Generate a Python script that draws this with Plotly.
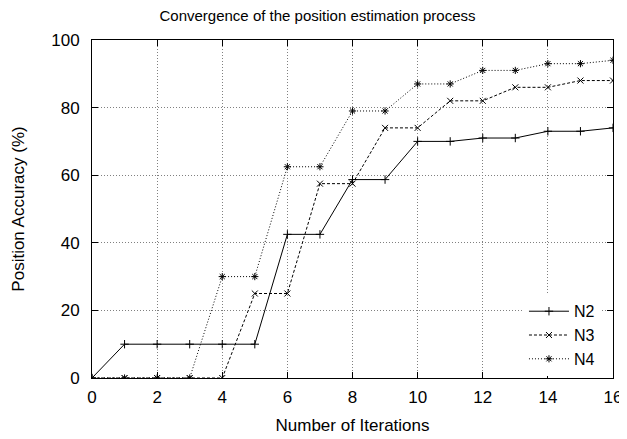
import plotly.graph_objects as go

iterations = list(range(17))
n2 = [0, 10, 10, 10, 10, 10, 42.5, 42.5, 58.7, 58.7, 70, 70, 71, 71, 73, 73, 74]
n3 = [0, 0, 0, 0, 0, 25, 25, 57.5, 57.5, 74, 74, 82, 82, 86, 86, 88, 88]
n4 = [0, 0, 0, 0, 30, 30, 62.5, 62.5, 79, 79, 87, 87, 91, 91, 93, 93, 94]
x_ticks = list(range(0, 17, 2))
y_ticks = list(range(0, 101, 20))

font = "Liberation Sans, Arial, sans-serif"
fig = go.Figure()
series = [("N2", n2, "solid", "cross-thin"), ("N3", n3, "3px,2px", "x-thin"), ("N4", n4, "1px,2px", "asterisk")]
for name, vals, dash, sym in series:
    fig.add_trace(go.Scatter(
        x=iterations, y=vals, name=name, mode="lines+markers",
        line=dict(color="black", width=1, dash=dash),
        marker=dict(symbol=sym, size=6, color="black", line=dict(color="black", width=1)),
    ))

axis_common = dict(
    showline=True, linecolor="black", linewidth=1, mirror="ticks",
    ticks="inside", ticklen=6, tickcolor="black", automargin=False, ticklabeloverflow="allow",
    showgrid=True, gridcolor="#808080", griddash="1px,2px", gridwidth=1,
    zeroline=False, tickfont=dict(family=font, size=17, color="black"),
)
fig.update_xaxes(range=[0, 16], tickvals=x_ticks, ticklabelstandoff=4,
                 title=dict(text="Number of Iterations", font=dict(family=font, size=17, color="black"), standoff=12),
                 **axis_common)
fig.update_yaxes(range=[0, 100], tickvals=y_ticks, ticklabelstandoff=8,
                 title=dict(text="Position Accuracy (%)", font=dict(family=font, size=17, color="black"), standoff=22),
                 **axis_common)

fig.update_layout(
    width=619, height=431,
    margin=dict(l=84, r=14, t=32, b=61, autoexpand=False),
    paper_bgcolor="white", plot_bgcolor="white",
    title=dict(text="Convergence of the position estimation process", x=0.5, xref="container", xanchor="center",
               y=0.995, yref="container", yanchor="top", pad=dict(t=0),
               font=dict(family=font, size=15, color="black")),
    legend=dict(x=0.975, y=0.005, xanchor="right", yanchor="bottom", bgcolor="rgba(255,255,255,1)",
                font=dict(family=font, size=16, color="black"), itemwidth=40, tracegroupgap=0),
    showlegend=True,
)
fig.write_html("out.html")
